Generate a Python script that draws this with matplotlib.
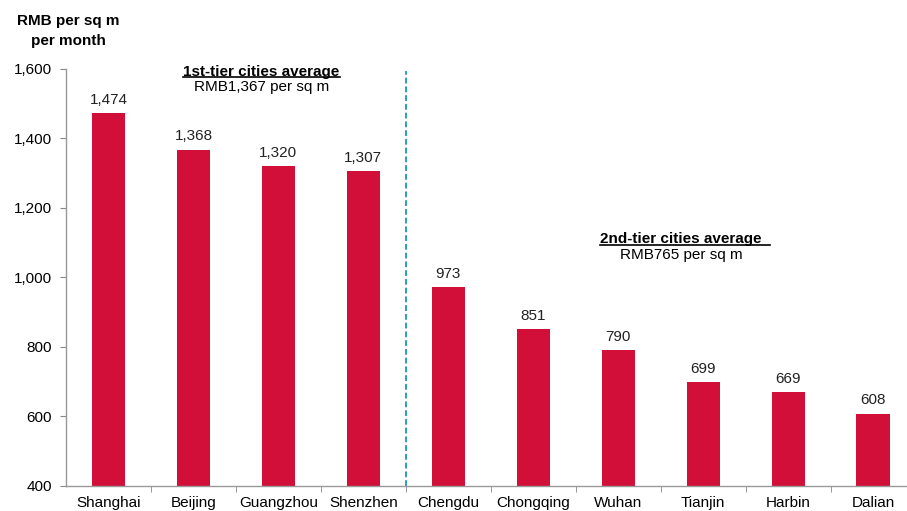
import matplotlib
matplotlib.use("Agg")
import matplotlib.pyplot as plt
from matplotlib.lines import Line2D

plt.rcParams['font.family'] = ['Liberation Sans', 'DejaVu Sans']

cities = ["Shanghai", "Beijing", "Guangzhou", "Shenzhen", "Chengdu",
          "Chongqing", "Wuhan", "Tianjin", "Harbin", "Dalian"]
rents = [1474, 1368, 1320, 1307, 973, 851, 790, 699, 669, 608]
value_labels = ["1,474", "1,368", "1,320", "1,307", "973",
                "851", "790", "699", "669", "608"]
y_ticks = [400, 600, 800, 1000, 1200, 1400, 1600]
y_tick_labels = ["400", "600", "800", "1,000", "1,200", "1,400", "1,600"]

tier1_title = "1st-tier cities average"
tier1_value = "RMB1,367 per sq m"
tier2_title = "2nd-tier cities average"
tier2_value = "RMB765 per sq m"

bar_color = "#D20F38"
fs = 11
fig = plt.figure(figsize=(9.07, 5.11), dpi=100)
ax = fig.add_axes([0.0728, 0.049, 0.9366, 0.816])

x = list(range(len(cities)))
ax.bar(x, rents, width=0.39, color=bar_color, zorder=2)
for xi, v, lab in zip(x, rents, value_labels):
    ax.text(xi, v + 18, lab, ha="center", va="bottom", fontsize=fs, color="#222222")

ax.set_xlim(-0.5, len(cities) - 0.5)
ax.set_ylim(400, 1600)
ax.set_yticks(y_ticks)
ax.set_yticklabels(y_tick_labels, fontsize=fs)
ax.set_xticks(x)
ax.set_xticklabels(cities, fontsize=fs)
ax.tick_params(axis="x", length=0, pad=7)
ax.set_xticks([i + 0.5 for i in range(len(cities) - 1)], minor=True)
ax.tick_params(axis="x", which="minor", length=4, color="#888888", direction="out")
ax.tick_params(axis="y", length=4, color="#888888", pad=6)

for s in ["top", "right"]:
    ax.spines[s].set_visible(False)
for s in ["left", "bottom"]:
    ax.spines[s].set_color("#999999")
    ax.spines[s].set_linewidth(1.0)

# divider between the two tiers
ax.axvline(3.5, ymin=0, ymax=0.995, color="#2AA0B5", linestyle=(0, (3, 1.5)), linewidth=1.4, zorder=3)

fig.text(0.075, 0.972, "RMB per sq m\nper month", ha="center", va="top",
         fontsize=fs, fontweight="bold", linespacing=1.5)

t1 = ax.text(1.8, 1572, tier1_title, ha="center", va="bottom", fontsize=fs, fontweight="bold")
ax.text(1.8, 1567, tier1_value, ha="center", va="top", fontsize=fs)
t2 = ax.text(6.74, 1090, tier2_title, ha="center", va="bottom", fontsize=fs, fontweight="bold")
ax.text(6.74, 1085, tier2_value, ha="center", va="top", fontsize=fs)

# underline the group headings
fig.canvas.draw()
renderer = fig.canvas.get_renderer()
inv = fig.transFigure.inverted()
for t, extra in [(t1, 0), (t2, 8)]:
    bb = t.get_window_extent(renderer)
    (x0, y0), (x1, _) = inv.transform([(bb.x0, bb.y0 + 1.5), (bb.x1 + extra, bb.y0)])
    fig.add_artist(Line2D([x0, x1], [y0, y0], color="black", linewidth=1.2,
                          transform=fig.transFigure))

fig.savefig("out.png", dpi=100)
